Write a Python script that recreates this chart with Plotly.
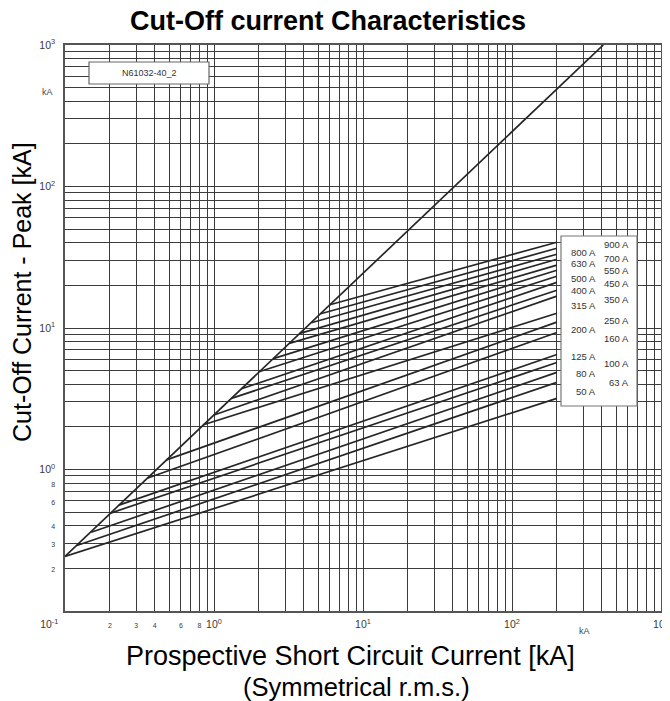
import plotly.graph_objects as go

# fuse ratings and their cut-off lines (start on the envelope, end at 200 kA)
ratings = [50, 63, 80, 100, 125, 160, 200, 250, 315, 350, 400, 450, 500, 550, 630, 700, 800, 900]
ip_start = [0.1, 0.12, 0.15, 0.2, 0.23, 0.36, 0.48, 0.85, 1.0, 1.31, 1.53, 2.03, 2.5, 3.2, 3.77, 4.5, 5.2, 6.0]
ic_start = [0.243, 0.29, 0.36, 0.49, 0.56, 0.87, 1.17, 2.07, 2.43, 3.18, 3.72, 4.93, 6.08, 7.78, 9.16, 10.9, 12.6, 14.6]
ip_end = 200
ic_end = [3.18, 4.13, 4.86, 5.7, 6.5, 9.3, 11.0, 12.7, 16.8, 18.5, 21.0, 23.2, 25.6, 27.8, 30.6, 33.2, 36.6, 40.4]

# unlimited peak envelope
diag_ip = [0.1, 410]
diag_ic = [0.243, 1000]

decades = [0.1, 1, 10, 100]
major_text = {0.1: "10<sup>-1</sup>", 1: "10<sup>0</sup>", 10: "10<sup>1</sup>",
              100: "10<sup>2</sup>", 1000: "10<sup>3</sup>"}
minor_labels = [2, 3, 4, 6, 8]

FONT = "Liberation Sans, Arial, sans-serif"
OFF = 8  # page margin of the html body
W, H = 670 - OFF, 701 - OFF
L, R, T, B = 65, 661, 45, 611  # plot area in window pixels


def px(x):
    return (x - L) / (R - L)


def py(y):
    return (B - y) / (B - T)


def grid_ticks(labelled_decade):
    vals, text = [], []
    for d in decades:
        for m in range(1, 10):
            vals.append(round(d * m, 6))
            if m == 1:
                text.append(major_text[d])
            elif d == labelled_decade and m in minor_labels:
                text.append(f"<span style='font-size:7px'>{m}</span>")
            else:
                text.append(" ")
    vals.append(1000)
    text.append(major_text[1000])
    return vals, text


def label(text, x, y, size, color="#333", **kw):
    fig.add_annotation(text=text, xref="paper", yref="paper", x=px(x), y=py(y),
                       xanchor=kw.pop("xanchor", "center"), yanchor="middle",
                       showarrow=False, font=dict(family=FONT, size=size, color=color), **kw)


fig = go.Figure()

line_style = dict(color="#262626", width=1.7)
fig.add_trace(go.Scatter(x=diag_ip, y=diag_ic, mode="lines", line=line_style,
                         showlegend=False, hoverinfo="skip"))
for r, x0, y0, y1 in zip(ratings, ip_start, ic_start, ic_end):
    fig.add_trace(go.Scatter(x=[x0, ip_end], y=[y0, y1], mode="lines", line=line_style,
                             name=f"{r} A", showlegend=False))

xv, xt = grid_ticks(0.1)
xt[0] = xt[0] + "\u2003\u2003\u2003"  # first x label sits left of the corner
yv, yt = grid_ticks(0.1)
yt[0] = " "  # no label at the bottom of the y axis

axis_common = dict(
    type="log", showgrid=True, gridcolor="#3c3c3c", gridwidth=1,
    showline=True, linecolor="#555", linewidth=1.5, mirror=True,
    ticks="", zeroline=False, automargin=False,
    tickfont=dict(family=FONT, size=10.5, color="#3a3a3a"),
    tickmode="array",
)
fig.update_xaxes(range=[-1, 3], tickvals=xv, ticktext=xt, tickangle=0,
                 ticklabelstandoff=3, **axis_common)
fig.update_yaxes(range=[-1, 3], tickvals=yv, ticktext=yt,
                 ticklabelstandoff=6, **axis_common)

# rating legend box
fig.add_shape(type="rect", xref="paper", yref="paper",
              x0=px(561), x1=px(637), y0=py(406), y1=py(236),
              fillcolor="white", line=dict(color="#777", width=1.2), layer="above")
left_col = {800: 253, 630: 264, 500: 278, 400: 290, 315: 306, 200: 329, 125: 357, 80: 373, 50: 391}
right_col = {900: 245, 700: 258, 550: 270, 450: 283, 350: 299, 250: 320, 160: 338, 100: 363, 63: 382}
for col, xr in ((left_col, 598), (right_col, 631)):
    for r, yy in col.items():
        label(f"{r} A", xr, yy, 9.5, xanchor="right")

# drawing number box
fig.add_shape(type="rect", xref="paper", yref="paper",
              x0=px(89), x1=px(209), y0=py(84), y1=py(62),
              fillcolor="white", line=dict(color="#666", width=1.2), layer="above")
label("N61032-40_2", 149, 73, 9)

# unit labels
label("kA", 47, 92, 9, "#444")
label("kA", 584, 631, 9, "#444")

# axis titles
label("Cut-Off Current - Peak [kA]", 22, 292, 25, "black", textangle=-90)
label("Prospective Short Circuit Current [kA]", 350, 656, 27, "black")
label("(Symmetrical r.m.s.)", 356, 687, 25.5, "black")

fig.update_layout(
    width=W, height=H,
    margin=dict(l=L - OFF, r=OFF + W - R, t=T - OFF, b=OFF + H - B),
    paper_bgcolor="white", plot_bgcolor="white",
    title=dict(text="<b>Cut-Off current Characteristics</b>", x=(328 - OFF) / W,
               xanchor="center", y=1 - (21 - OFF) / H, yanchor="middle",
               font=dict(family=FONT, size=27, color="black")),
    showlegend=False,
)

fig.write_html("out.html")
